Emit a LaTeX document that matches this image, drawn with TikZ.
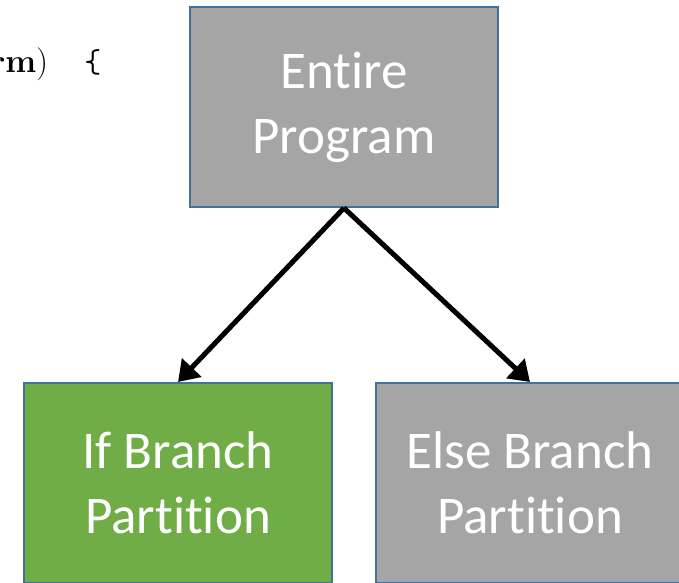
\documentclass[tikz,border=0pt]{standalone}
\usepackage{fontspec}
\setmainfont{Latin Modern Roman}
\newfontfamily\boxfont[Ligatures={NoCommon}]{Carlito}
\usetikzlibrary{arrows.meta}

\definecolor{boxgray}{HTML}{A5A5A5}
\definecolor{boxgreen}{HTML}{70AD47}
\definecolor{boxedge}{HTML}{41719C}

\tikzset{
    part/.style={draw=boxedge, line width=2pt, minimum width=308pt, minimum height=200pt,
        text=white, align=center, font=\boxfont\fontsize{53}{65}\selectfont},
    split/.style={line width=5pt, -{Triangle[length=20pt,width=26pt]}}
}

\begin{document}
\begin{tikzpicture}[x=1pt,y=-1pt]
        \useasboundingbox (0,0) rectangle (679,582);

        % code snippet cut at the left edge
        \node[anchor=base west, inner sep=0pt, font=\fontsize{33}{40}\selectfont] (code) at (-10,72) {\textbf{rm})\hspace{1.1em}\texttt{\{}};

        \node[part, fill=boxgray] (whole) at (344,107) {Entire\\Program};
        \node[part, fill=boxgreen] (ifpart) at (178,483) {If Branch\\Partition};
        \node[part, fill=boxgray] (elsepart) at (530,483) {Else Branch\\Partition};

        \draw[split] (whole.south) -- (ifpart.north);
        \draw[split] (whole.south) -- (elsepart.north);
    \end{tikzpicture}
\end{document}
